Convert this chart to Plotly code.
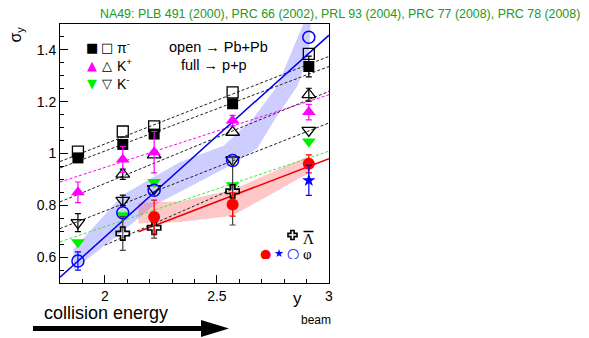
import plotly.graph_objects as go
import numpy as np

# ---------------- data ----------------
y_beam = [1.88, 2.08, 2.22, 2.57, 2.91]

pim_full = [0.983, 1.035, 1.075, 1.192, 1.336]
pim_full_err = [0.015, 0.015, 0.015, 0.015, 0.04]
pim_open = [1.007, 1.085, 1.105, 1.236, 1.385]
pim_open_err = [0, 0, 0, 0, 0]

kp_full = [0.85, 0.977, 1.005, 1.127, 1.16]
kp_full_err = [0.04, 0.05, 0.08, 0.02, 0.03]
kp_open_x = [2.08, 2.22, 2.57, 2.91]
kp_open = [0.92, 0.995, 1.082, 1.227]
kp_open_err = [0.02, 0, 0, 0.025]

km_full = [0.657, 0.762, 0.89, 0.877, 1.046]
km_full_err = [0, 0, 0, 0, 0]
km_open = [0.733, 0.819, 0.864, 0.975, 1.089]
km_open_err = [0.035, 0.02, 0, 0, 0]

lam_x = [2.08, 2.22, 2.57]
lam_open = [0.691, 0.713, 0.854]
lam_open_err = [0.065, 0.04, 0.13]

phi_open = [0.585, 0.771, 0.858, 0.973, 1.449]
phi_open_err = [0.035, 0, 0, 0, 0]
phi_full_x = [2.22, 2.57, 2.91]
phi_full = [0.755, 0.803, 0.96]
phi_full_err = [0.065, 0.045, 0.035]
phi_star_x = [2.91]
phi_star = [0.896]
phi_star_err = [0.058]

# straight-line fits (value at the two ends of the x range)
fit_x = [1.8, 3.0]
fit_pim_open = [0.969, 1.375]
fit_pim_full = [0.944, 1.336]
fit_kp_open = [0.813, 1.24]
fit_kp_full = [0.89, 1.227]
fit_km_open = [0.71, 1.118]
fit_km_full = [0.659, 1.009]
fit_phi_open = [0.522, 1.457]
fit_lam_x = [2.0, 2.6]
fit_lam = [0.646, 0.874]
fit_phi_full_x = [2.15, 3.0]
fit_phi_full = [0.698, 0.98]

# model bands
band_blue_hi_x = [1.86, 2.08, 2.22, 2.336, 2.53, 2.66, 2.77, 2.83, 2.885, 2.90]
band_blue_hi = [0.63, 0.84, 0.91, 0.967, 1.03, 1.134, 1.262, 1.39, 1.50, 1.53]
band_blue_lo_x = [1.86, 2.08, 2.22, 2.336, 2.56, 2.68, 2.76, 2.86, 2.91, 2.92]
band_blue_lo = [0.55, 0.70, 0.80, 0.852, 0.954, 1.02, 1.134, 1.262, 1.39, 1.53]
band_red_x = [2.15, 2.336, 2.57, 2.91]
band_red_hi = [0.81, 0.815, 0.86, 0.99]
band_red_lo = [0.73, 0.736, 0.76, 0.925]

x_tickvals = [2, 2.5, 3]
x_ticktext = ["2", "2.5", "3"]
y_tickvals = [0.6, 0.8, 1.0, 1.2, 1.4]
y_ticktext = ["0.6", "0.8", "1", "1.2", "1.4"]

# ---------------- figure ----------------
OFF = 8                      # default page margin of the html body
SW, SH = 589, 338            # screenshot size
W, H = SW - OFF, SH - OFF    # figure size
L, R, T, B = 60 - OFF, 329 - OFF, 24 - OFF, 283 - OFF


def px(sx):
    return (sx - OFF - L) / (R - L)


def py(sy):
    return (B - (sy - OFF)) / (B - T)


fig = go.Figure()

# bands
fig.add_trace(go.Scatter(x=band_blue_hi_x + band_blue_lo_x[::-1],
                         y=band_blue_hi + band_blue_lo[::-1],
                         fill="toself", fillcolor="rgba(90,90,255,0.3)",
                         line=dict(width=0), mode="lines", hoverinfo="skip"))
fig.add_trace(go.Scatter(x=band_red_x + band_red_x[::-1],
                         y=band_red_hi + band_red_lo[::-1],
                         fill="toself", fillcolor="rgba(255,80,80,0.32)",
                         line=dict(width=0), mode="lines", hoverinfo="skip"))

dash = "3px,2px"


def fit_line(xs, ys, color, dsh=dash, width=1):
    fig.add_trace(go.Scatter(x=xs, y=ys, mode="lines",
                             line=dict(color=color, width=width, dash=dsh),
                             hoverinfo="skip"))


fit_line(fit_x, fit_pim_open, "#222222")
fit_line(fit_x, fit_pim_full, "#222222")
fit_line(fit_x, fit_kp_open, "#222222")
fit_line(fit_x, fit_km_open, "#222222")
fit_line(fit_lam_x, fit_lam, "#222222")
fit_line(fit_x, fit_kp_full, "#ff00ff")
fit_line(fit_x, fit_km_full, "#33ee33")
fit_line(fit_x, fit_phi_open, "#0000ee", dsh="solid", width=1.5)
fit_line(fit_phi_full_x, fit_phi_full, "#ee0000", dsh="solid", width=1.5)


def pts(xs, ys, err, symbol, color, size, ecolor=None, lw=1.3):
    # error bars only for the points that show one
    ex = [x for x, e in zip(xs, err) if e > 0]
    ey = [y for y, e in zip(ys, err) if e > 0]
    ee = [e for e in err if e > 0]
    if ee:
        fig.add_trace(go.Scatter(
            x=ex, y=ey, mode="markers", marker=dict(size=1, opacity=0),
            error_y=dict(type="data", array=ee, color=ecolor or color,
                         thickness=1.2, width=3),
            hoverinfo="skip"))
    fig.add_trace(go.Scatter(
        x=xs, y=ys, mode="markers",
        marker=dict(symbol=symbol, color=color, size=size,
                    line=dict(width=lw if "open" in symbol else 0, color=color)),
    ))


pts(y_beam, pim_open, pim_open_err, "square-open", "black", 11)
pts(y_beam, pim_full, pim_full_err, "square", "black", 11)
pts(kp_open_x, kp_open, kp_open_err, "triangle-up-open", "black", 12)
pts(y_beam, kp_full, kp_full_err, "triangle-up", "#ff00ff", 12)
pts(y_beam, km_open, km_open_err, "triangle-down-open", "black", 12)
pts(y_beam, km_full, km_full_err, "triangle-down", "#00ee00", 12)
pts(lam_x, lam_open, lam_open_err, "cross-open", "black", 11, ecolor="#444444", lw=1.6)
pts(phi_full_x, phi_full, phi_full_err, "circle", "#ff0000", 12)
pts(phi_star_x, phi_star, phi_star_err, "star", "#0000ff", 10)
pts(y_beam, phi_open, phi_open_err, "circle-open", "#0000ff", 12, lw=1.5)

ann = []


def text(x, y, s, size=14, color="black", family="Liberation Sans, Arial, sans-serif",
         xanchor="center", yanchor="middle", angle=0, height=None):
    d = dict(x=px(x), y=py(y), xref="paper", yref="paper", text=s,
             showarrow=False, xanchor=xanchor, yanchor=yanchor,
             font=dict(size=size, color=color, family=family),
             textangle=angle, borderpad=0)
    if height:
        d["height"] = height
    ann.append(d)


sym = "DejaVu Sans"
# header
text(99, 14, "NA49: PLB 491 (2000), PRC 66 (2002), PRL 93 (2004), PRC 77 (2008), PRC 78 (2008)",
     size=12.4, color="#229922", xanchor="left")
# axis titles
text(15.5, 35, "σ<sub>y</sub>", size=16, angle=-90)
text(297, 298, "y", size=17)
text(316, 320, "beam", size=12)
text(106, 313, "collision energy", size=18)
# legend top-left
text(92, 47, "■", size=13, family=sym)
text(107, 47, "□", size=13, family=sym)
text(116, 47, "π<sup>-</sup>", size=14, xanchor="left")
text(92, 65, "▲", size=13, color="#ff00ff", family=sym)
text(107, 65, "△", size=13, family=sym)
text(116, 65, "K<sup>+</sup>", size=14, xanchor="left")
text(92, 83, "▼", size=13, color="#00ee00", family=sym)
text(107, 83, "▽", size=13, family=sym)
text(116, 83, "K<sup>-</sup>", size=14, xanchor="left")
text(218, 47, "open → Pb+Pb", size=14.5)
text(214, 65, "full → p+p", size=14.5)
# legend bottom-right
text(308.5, 239, "Λ", size=15, family="Liberation Serif, serif", height=12)
text(265.3, 253, "●", size=13, color="#ff0000", family=sym, height=12)
text(279, 253, "★", size=11, color="#0000ff", family=sym, height=12)
text(293, 253, "○", size=14, color="#0000ff", family=sym, height=12)
text(307.5, 253.5, "φ", size=15, family="Liberation Serif, serif", height=12)

# outlined cross symbol of the anti-Lambda legend entry
cx, cy, a, w = 292.5, 235, 4.5, 1.6
cross = [(cx - w, cy - a), (cx + w, cy - a), (cx + w, cy - w), (cx + a, cy - w),
         (cx + a, cy + w), (cx + w, cy + w), (cx + w, cy + a), (cx - w, cy + a),
         (cx - w, cy + w), (cx - a, cy + w), (cx - a, cy - w), (cx - w, cy - w)]
cross_path = "M " + " L ".join(f"{px(u)} {py(v)}" for u, v in cross) + " Z"

shapes = [
    dict(type="path", xref="paper", yref="paper", path=cross_path,
         fillcolor="white", line=dict(color="black", width=1.6)),
    # overbar of anti-Lambda
    dict(type="line", xref="paper", yref="paper", x0=px(303.5), x1=px(313.5),
         y0=py(231.5), y1=py(231.5), line=dict(color="black", width=1.5)),
    # collision energy arrow
    dict(type="line", xref="paper", yref="paper", x0=px(33), x1=px(205),
         y0=py(328.5), y1=py(328.5), line=dict(color="black", width=5)),
    dict(type="path", xref="paper", yref="paper",
         path=f"M {px(201)} {py(320)} L {px(229)} {py(328.5)} L {px(201)} {py(337)} Z",
         fillcolor="black", line=dict(color="black", width=0)),
]

fig.update_layout(
    width=W, height=H,
    margin=dict(l=L, r=W - R, t=T, b=H - B, pad=0),
    paper_bgcolor="white", plot_bgcolor="white",
    showlegend=False,
    annotations=ann, shapes=shapes,
    font=dict(family="Liberation Sans, Arial, sans-serif", size=14, color="black"),
    xaxis=dict(range=[1.8, 3.0], tickvals=x_tickvals, ticktext=x_ticktext,
               ticks="inside", ticklen=8, tickwidth=1, tickcolor="black",
               minor=dict(dtick=0.1, tick0=2.0, ticks="inside", ticklen=4, tickcolor="black"),
               showline=True, linecolor="black", linewidth=1, mirror=True,
               showgrid=False, zeroline=False,
               tickfont=dict(size=14, family="Liberation Sans, Arial, sans-serif")),
    yaxis=dict(range=[0.5, 1.5], tickvals=y_tickvals, ticktext=y_ticktext,
               ticks="inside", ticklen=8, tickwidth=1, tickcolor="black",
               minor=dict(dtick=0.05, tick0=0.5, ticks="inside", ticklen=4, tickcolor="black"),
               showline=True, linecolor="black", linewidth=1, mirror=True,
               showgrid=False, zeroline=False,
               tickfont=dict(size=14, family="Liberation Sans, Arial, sans-serif")),
)

fig.write_html("out.html")
